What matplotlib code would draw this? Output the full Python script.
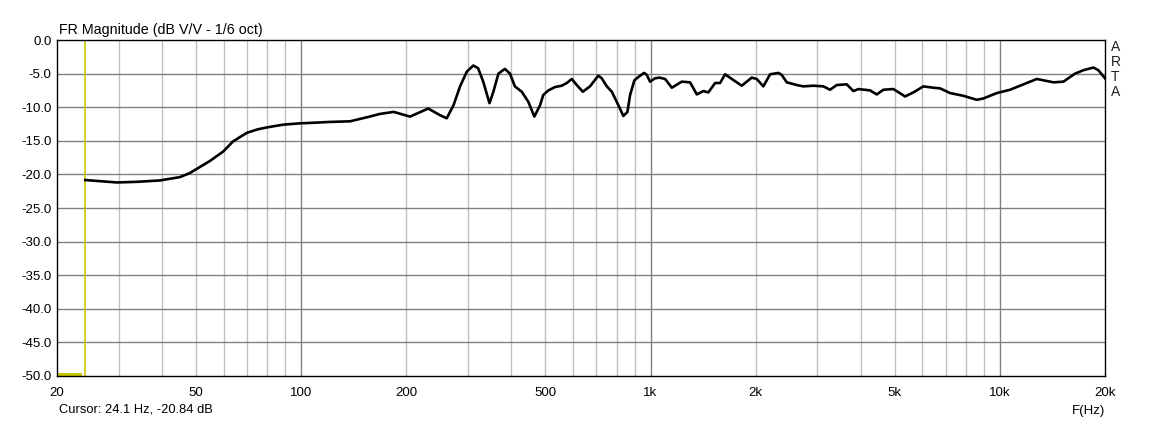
import matplotlib
matplotlib.use('Agg')
import matplotlib.pyplot as plt
from matplotlib.ticker import FixedLocator, NullFormatter

# frequency response
freq = [24.1, 29.7, 34, 39.4, 45, 48.0, 54.8, 59.8, 63.8, 67, 70.0, 75, 79.9, 88.7,
        99.3, 110, 120, 138, 157, 168, 184, 205, 231, 250, 261, 273, 285, 298, 311,
        321, 332, 346, 355, 367, 383, 396, 409, 428, 447, 465, 483, 493, 510, 533,
        557, 576, 595, 615, 640, 671, 709, 725, 750, 775, 809, 836, 859, 874, 899,
        934, 959, 976, 997, 1030, 1060, 1101, 1151, 1229, 1298, 1357, 1417, 1464,
        1531, 1582, 1635, 1709, 1825, 1949, 2014, 2104, 2200, 2323, 2375, 2455,
        2622, 2739, 2926, 3125, 3266, 3413, 3646, 3808, 3936, 4251, 4444, 4641,
        4957, 5354, 5656, 6042, 6454, 6746, 7206, 7864, 8590, 8972, 9800, 10700,
        12210, 12760, 14240, 15200, 16420, 17340, 18530, 19150, 20000]
mag = [-20.84, -21.2, -21.1, -20.9, -20.4, -19.8, -18.0, -16.6, -15.1, -14.4, -13.8,
       -13.3, -13.0, -12.6, -12.4, -12.3, -12.2, -12.1, -11.4, -11.0, -10.7, -11.4,
       -10.2, -11.2, -11.65, -9.7, -6.9, -4.7, -3.8, -4.2, -6.2, -9.4, -7.7, -5.0,
       -4.3, -5.0, -6.9, -7.7, -9.2, -11.4, -9.7, -8.2, -7.5, -7.0, -6.8, -6.4,
       -5.8, -6.7, -7.7, -6.9, -5.3, -5.7, -6.9, -7.7, -9.7, -11.3, -10.7, -8.2,
       -6.0, -5.3, -4.9, -5.2, -6.2, -5.7, -5.6, -5.8, -7.1, -6.2, -6.3, -8.1,
       -7.6, -7.8, -6.4, -6.4, -5.1, -5.8, -6.8, -5.6, -5.8, -6.9, -5.1, -4.9,
       -5.2, -6.3, -6.7, -6.9, -6.8, -6.9, -7.4, -6.7, -6.6, -7.6, -7.3, -7.5,
       -8.1, -7.4, -7.3, -8.4, -7.8, -6.9, -7.1, -7.2, -7.9, -8.3, -8.9, -8.7,
       -7.9, -7.4, -6.2, -5.8, -6.3, -6.2, -5.0, -4.5, -4.1, -4.5, -5.7]

cursor_f = 24.1
cursor_db = -20.84

x_major = [20, 50, 100, 200, 500, 1000, 2000, 5000, 10000, 20000]
x_labels = ['20', '50', '100', '200', '500', '1k', '2k', '5k', '10k', '20k']
y_ticks = [0, -5, -10, -15, -20, -25, -30, -35, -40, -45, -50]

plt.rcParams['font.family'] = ['Liberation Sans', 'DejaVu Sans']
plt.rcParams['font.size'] = 9.5

fig = plt.figure(figsize=(11.61, 4.25), dpi=100)
ax = fig.add_axes([57 / 1161, 1 - 376 / 425, 1048 / 1161, 336 / 425])

ax.set_xscale('log')
ax.set_xlim(20, 20000)
ax.set_ylim(-50, 0)

# grid: light minor lines, darker decade / 5 dB lines
minors = []
for dec in [10, 100, 1000, 10000]:
    for k in range(2, 10):
        f = k * dec
        if 20 < f < 20000:
            minors.append(f)
for f in minors:
    ax.axvline(f, color='#c0c0c0', lw=1, zorder=1)
for f in [100, 1000, 10000]:
    ax.axvline(f, color='#808080', lw=1, zorder=1)
for y in y_ticks[1:-1]:
    ax.axhline(y, color='#808080', lw=1, zorder=1)

ax.plot(freq, mag, color='black', lw=1.9, zorder=3, solid_joinstyle='round')

# cursor
ax.axvline(cursor_f, color='#c8c800', lw=1.2, zorder=2)
ax.plot([20, 23.2], [-49.7, -49.7], color='#c8c800', lw=2.2, zorder=2)

ax.xaxis.set_major_locator(FixedLocator(x_major))
ax.set_xticklabels(x_labels)
ax.xaxis.set_minor_formatter(NullFormatter())
ax.tick_params(axis='x', which='both', length=0, pad=8)
ax.set_yticks(y_ticks)
ax.set_yticklabels(['%.1f' % v for v in y_ticks])
ax.tick_params(axis='y', length=0, pad=4)
for s in ax.spines.values():
    s.set_color('black')
    s.set_linewidth(1)

fig.text(59 / 1161, 1 - 30 / 425, 'FR Magnitude (dB V/V - 1/6 oct)', fontsize=10.3, va='center')
fig.text(59 / 1161, 1 - 410 / 425, 'Cursor: 24.1 Hz, -20.84 dB', fontsize=9.3, va='center')
fig.text(1105 / 1161, 1 - 411 / 425, 'F(Hz)', fontsize=9.5, va='center', ha='right')
for i, ch in enumerate('ARTA'):
    fig.text(1111 / 1161, 1 - (47 + 15 * i) / 425, ch, fontsize=10, va='center',
             color='#202020')

fig.savefig('out.png', dpi=100, facecolor='white')
